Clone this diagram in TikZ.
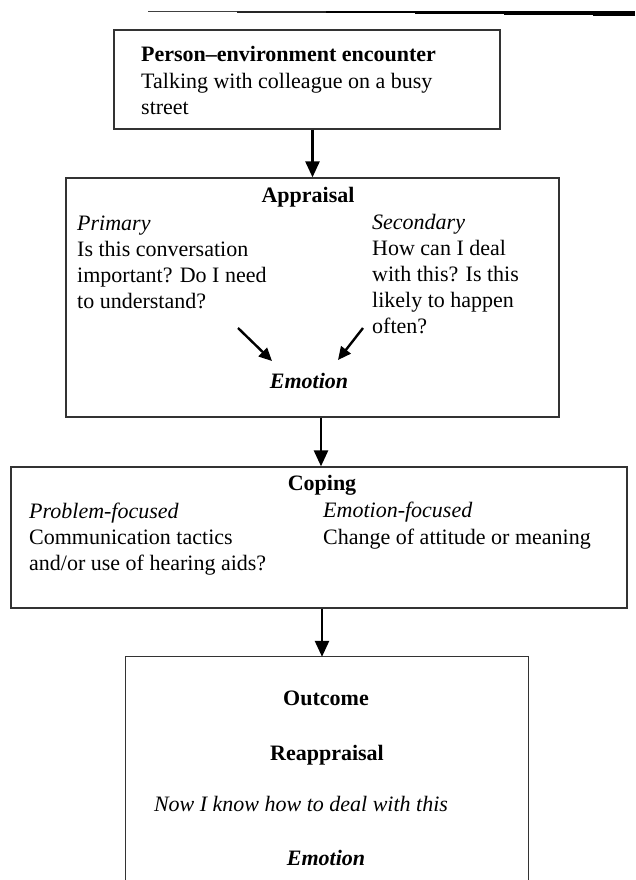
\documentclass[tikz,border=0pt]{standalone}
\usepackage{fontspec}
\setmainfont{Liberation Serif}
\usetikzlibrary{arrows.meta}
\begin{document}
\begin{tikzpicture}[x=1pt,y=-1pt,
  boxline/.style={draw=black!80, line width=1.3pt},
  box/.style={boxline, inner sep=0pt},
  ghost/.style={inner sep=0pt},
  tl/.style={anchor=base west, inner sep=0pt, font=\fontsize{22}{26}\selectfont},
  tc/.style={anchor=base, inner sep=0pt, font=\fontsize{22}{26}\selectfont},
  bigarr/.style={line width=2.6pt, -{Triangle[width=14pt,length=16pt]}},
  smallarr/.style={line width=2.4pt, -{Triangle[width=12pt,length=13pt]}}
]
\useasboundingbox (0,0) rectangle (635,880);
\fill[white] (0,0) rectangle (635,880);

% top rule, getting thicker to the right
\fill[black!75] (148,11) rectangle (237,12.3);
\fill[black!85] (237,11) rectangle (326,12.8);
\fill[black] (326,11) rectangle (415,13.4);
\fill[black] (415,11) rectangle (504,14.2);
\fill[black] (504,11) rectangle (593,15.2);
\fill[black] (593,11) rectangle (635,16.2);

% boxes
\node[box, minimum width=386pt, minimum height=99pt] (b1) at (307,79.5) {};
\node[box, minimum width=493pt, minimum height=239pt] (b2) at (312.5,297.5) {};
\node[box, minimum width=616pt, minimum height=141pt] (b3) at (319,537.5) {};
\node[ghost, minimum width=402pt, minimum height=223pt] (b4) at (327,768.5) {};
\draw[boxline] (b4.south west) -- (b4.north west) -- (b4.north east) -- (b4.south east);

% box 1 text
\node[tl, font=\fontsize{22}{26}\selectfont\bfseries] (pe1) at (141,62) {Person–environment encounter};
\node[tl] (pe2) at (141,89) {Talking with colleague on a busy};
\node[tl] (pe3) at (141,115) {street};

% box 2 text
\node[tc, font=\fontsize{22}{26}\selectfont\bfseries] (ap) at (308,202) {Appraisal};
\node[tl, font=\fontsize{22}{26}\selectfont\itshape] (pr0) at (77,230) {Primary};
\node[tl] (pr1) at (77,256) {Is this conversation};
\node[tl] (pr2) at (77,282) {important? Do I need};
\node[tl] (pr3) at (77,308) {to understand?};
\node[tl, font=\fontsize{22}{26}\selectfont\itshape] (se0) at (372,229) {Secondary};
\node[tl] (se1) at (372,255) {How can I deal};
\node[tl] (se2) at (372,281) {with this? Is this};
\node[tl] (se3) at (372,307) {likely to happen};
\node[tl] (se4) at (372,333) {often?};
\node[tc, font=\fontsize{22}{26}\selectfont\bfseries\itshape] (emo) at (309,388) {Emotion};

\coordinate (pa) at (238,328);
\coordinate (pb) at (272,361);
\coordinate (sa) at (363,328);
\coordinate (sb) at (338,360);
\draw[smallarr] (pa) -- (pb);
\draw[smallarr] (sa) -- (sb);

% box 3 text
\node[tc, font=\fontsize{22}{26}\selectfont\bfseries] (cop) at (322,490) {Coping};
\node[tl, font=\fontsize{22}{26}\selectfont\itshape] (pf0) at (29,518) {Problem-focused};
\node[tl] (pf1) at (29,544) {Communication tactics};
\node[tl] (pf2) at (29,570) {and/or use of hearing aids?};
\node[tl, font=\fontsize{22}{26}\selectfont\itshape] (ef0) at (323,517) {Emotion-focused};
\node[tl] (ef1) at (323,544) {Change of attitude or meaning};

% box 4 text
\node[tc, font=\fontsize{22}{26}\selectfont\bfseries] (out) at (326,705) {Outcome};
\node[tc, font=\fontsize{22}{26}\selectfont\bfseries] (rea) at (327,760) {Reappraisal};
\node[tc, font=\fontsize{22}{26}\selectfont\itshape] (now) at (301,811) {Now I know how to deal with this};
\node[tc, font=\fontsize{22}{26}\selectfont\bfseries\itshape] (emo2) at (326,865) {Emotion};

% connectors
\draw[bigarr] (b2.north |- b1.south) -- (b2.north);
\draw[bigarr] ([xshift=2pt]b3.north |- b2.south) -- ([xshift=2pt]b3.north);
\draw[bigarr] ([xshift=3pt]b3.south) -- ([xshift=3pt]b3.south |- b4.north);
\end{tikzpicture}
\end{document}
